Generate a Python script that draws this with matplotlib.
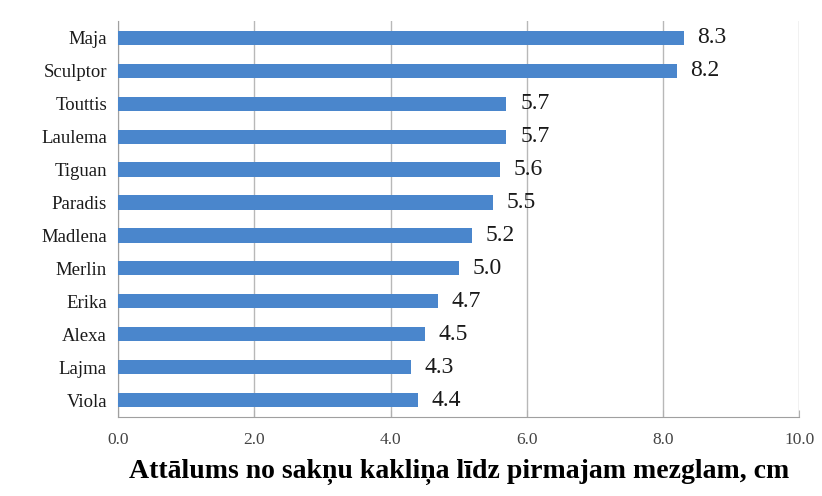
import matplotlib.pyplot as plt

# šķirnes un attālums līdz pirmajam mezglam (cm)
skirnes = ['Maja', 'Sculptor', 'Touttis', 'Laulema', 'Tiguan', 'Paradis',
           'Madlena', 'Merlin', 'Erika', 'Alexa', 'Lajma', 'Viola']
attalums = [8.3, 8.2, 5.7, 5.7, 5.6, 5.5, 5.2, 5.0, 4.7, 4.5, 4.3, 4.4]
x_ticks = [0.0, 2.0, 4.0, 6.0, 8.0, 10.0]

plt.rcParams['font.family'] = ['Liberation Serif', 'DejaVu Serif']

fig = plt.figure(figsize=(8.22, 4.96), dpi=100)
ax = fig.add_axes([0.1436, 0.160, 0.829, 0.797])

y = list(range(len(skirnes)))
ax.barh(y, attalums, height=0.43, color='#4a86cc', zorder=3)
ax.set_ylim(len(skirnes) - 0.5, -0.5)
ax.set_yticks(y)
ax.set_yticklabels(skirnes, fontsize=13.5, color='#1a1a1a')

for yi, v in zip(y, attalums):
    ax.text(v + 0.2, yi, f'{v:.1f}', va='center', ha='left', fontsize=17, color='#1a1a1a')

ax.set_xlim(0, 10)
ax.set_xticks(x_ticks)
ax.set_xticklabels([f'{t:.1f}' for t in x_ticks], fontsize=12.5, color='#444444')
ax.xaxis.grid(True, color='#b8b8b8', linewidth=1.0, zorder=0)
ax.tick_params(axis='y', length=0, pad=8)
ax.tick_params(axis='x', length=5, direction='in', color='#b0b0b0', pad=11)

for s in ['top', 'right']:
    ax.spines[s].set_visible(False)
for s in ['left', 'bottom']:
    ax.spines[s].set_color('#a0a0a0')

ax.set_xlabel('Attālums no sakņu kakliņa līdz pirmajam mezglam, cm',
              fontsize=20, fontweight='bold', labelpad=8)

fig.savefig('out.png', dpi=100)
